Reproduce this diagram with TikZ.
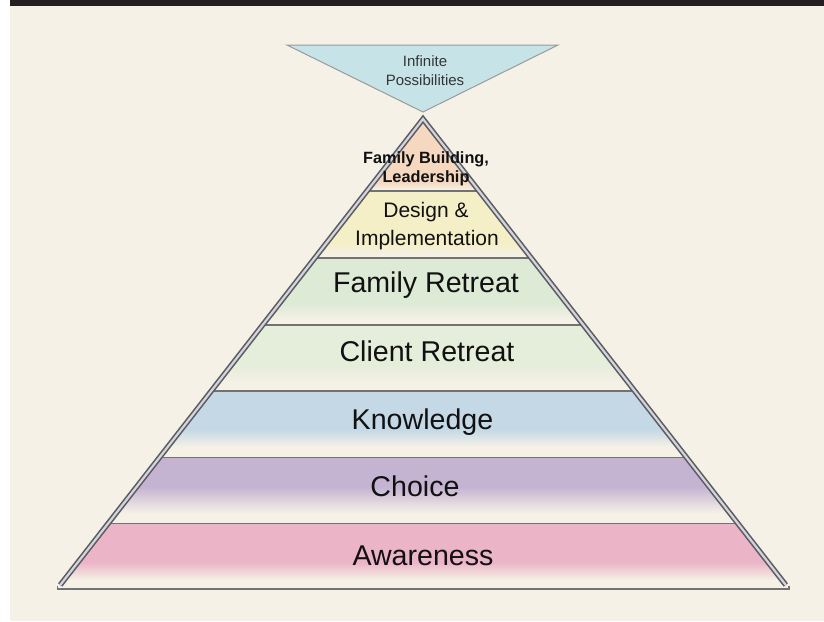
\documentclass[tikz,border=0pt]{standalone}
\usepackage{fontspec}
\setmainfont{Liberation Sans}
\usetikzlibrary{calc}
\definecolor{cream}{HTML}{F5F1E6}
\definecolor{topbar}{HTML}{231F20}
\definecolor{invfill}{HTML}{C6E4E8}
\definecolor{invline}{HTML}{9A9A9A}
\definecolor{cTop}{HTML}{F6D8C0}
\definecolor{cD}{HTML}{F5EFC8}
\definecolor{cFR}{HTML}{DDEAD6}
\definecolor{cCR}{HTML}{E5EDDB}
\definecolor{cK}{HTML}{C4D8E6}
\definecolor{cC}{HTML}{C5B3D2}
\definecolor{cA}{HTML}{EBB5C7}
\definecolor{edgegray}{HTML}{5C5C60}
\definecolor{edgelight}{HTML}{D4D4DE}
\definecolor{bandgray}{HTML}{727272}
\definecolor{txt}{HTML}{111111}
\pgfdeclareverticalshading{shTop}{100bp}{color(0bp)=(cream); color(26bp)=(cream); color(31bp)=(cTop); color(100bp)=(cTop)}
\pgfdeclareverticalshading{shD}{100bp}{color(0bp)=(cream); color(27bp)=(cream); color(36bp)=(cD); color(100bp)=(cD)}
\pgfdeclareverticalshading{shFR}{100bp}{color(0bp)=(cream); color(28.7bp)=(cream); color(41.4bp)=(cFR); color(100bp)=(cFR)}
\pgfdeclareverticalshading{shCR}{100bp}{color(0bp)=(cream); color(31bp)=(cream); color(45bp)=(cCR); color(100bp)=(cCR)}
\pgfdeclareverticalshading{shK}{100bp}{color(0bp)=(cream); color(33bp)=(cream); color(46bp)=(cK); color(100bp)=(cK)}
\pgfdeclareverticalshading{shC}{100bp}{color(0bp)=(cream); color(32.7bp)=(cream); color(52.7bp)=(cC); color(100bp)=(cC)}
\pgfdeclareverticalshading{shA}{100bp}{color(0bp)=(cream); color(29bp)=(cream); color(43.5bp)=(cA); color(100bp)=(cA)}
\begin{document}
\begin{tikzpicture}[x=1pt,y=-1pt,
  bandline/.style={draw=bandgray,line width=1.6pt},
  edge/.style={draw=edgegray,line width=1.6pt,double=edgelight,double distance=2.2pt,line join=miter},
  invtri/.style={fill=invfill,draw=invline,line width=1pt,line join=miter},
  bigtxt/.style={anchor=base,text=txt,inner sep=0pt,font=\fontsize{28.6}{34}\selectfont},
  midtxt/.style={anchor=base,text=txt,inner sep=0pt,font=\fontsize{21}{26}\selectfont},
  smalltxt/.style={anchor=base,text=txt,inner sep=0pt,font=\bfseries\fontsize{16.3}{19}\selectfont},
  invtxt/.style={anchor=base,text=txt!85!white,inner sep=0pt,font=\fontsize{15}{19}\selectfont}]
\useasboundingbox (0,0) rectangle (824,621);
\fill[white] (0,0) rectangle (824,621);
\fill[cream] (10,6) rectangle (824,621);
\fill[topbar] (10,0) rectangle (824,6);
% pyramid geometry
\coordinate (apex) at (423,119);
\coordinate (bl) at (60.2,585);
\coordinate (br) at (785.8,585);
\foreach \n/\t in {1/0.1545,2/0.2983,3/0.4421,4/0.5837,5/0.7260,6/0.8676}{
  \coordinate (l\n) at ($(apex)!\t!(bl)$);
  \coordinate (r\n) at ($(apex)!\t!(br)$);
}
% bands
\shade[shading=shTop] (apex) -- (r1) -- (l1) -- cycle;
\shade[shading=shD] (l1) -- (r1) -- (r2) -- (l2) -- cycle;
\shade[shading=shFR] (l2) -- (r2) -- (r3) -- (l3) -- cycle;
\shade[shading=shCR] (l3) -- (r3) -- (r4) -- (l4) -- cycle;
\shade[shading=shK] (l4) -- (r4) -- (r5) -- (l5) -- cycle;
\shade[shading=shC] (l5) -- (r5) -- (r6) -- (l6) -- cycle;
\shade[shading=shA] (l6) -- (r6) -- (br) -- (bl) -- cycle;
\foreach \n in {1,...,6}{ \draw[bandline] (l\n) -- (r\n); }
% base line with small corner ticks
\coordinate (bbl) at (57.5,589);
\coordinate (bbr) at (789,589);
\coordinate (tbl) at (57.5,585.5);
\coordinate (tbr) at (789,585.5);
\draw[bandline,line width=1.3pt] (tbl) -- (bbl) -- (bbr) -- (tbr);
% outer double edge
\draw[edge] (bl) -- (apex) -- (br);
% inverted triangle
\coordinate (it1) at (287,45);
\coordinate (it2) at (558,45);
\coordinate (it3) at (423,112);
\draw[invtri] (it1) -- (it2) -- (it3) -- cycle;
% texts
\node[invtxt] (inf1) at (425,66.5) {Infinite};
\node[invtxt] (inf2) at (425,85.5) {Possibilities};
\node[smalltxt] (fb1) at (426,163.3) {Family Building,};
\node[smalltxt] (fb2) at (426,182.7) {Leadership};
\node[midtxt] (di1) at (426,217.3) {Design \&};
\node[midtxt] (di2) at (427,245) {Implementation};
\node[bigtxt] (fr) at (426,292.3) {Family Retreat};
\node[bigtxt] (cr) at (427,361) {Client Retreat};
\node[bigtxt] (kn) at (422.5,429.3) {Knowledge};
\node[bigtxt] (ch) at (415,496.7) {Choice};
\node[bigtxt] (aw) at (423,565) {Awareness};
\end{tikzpicture}
\end{document}
